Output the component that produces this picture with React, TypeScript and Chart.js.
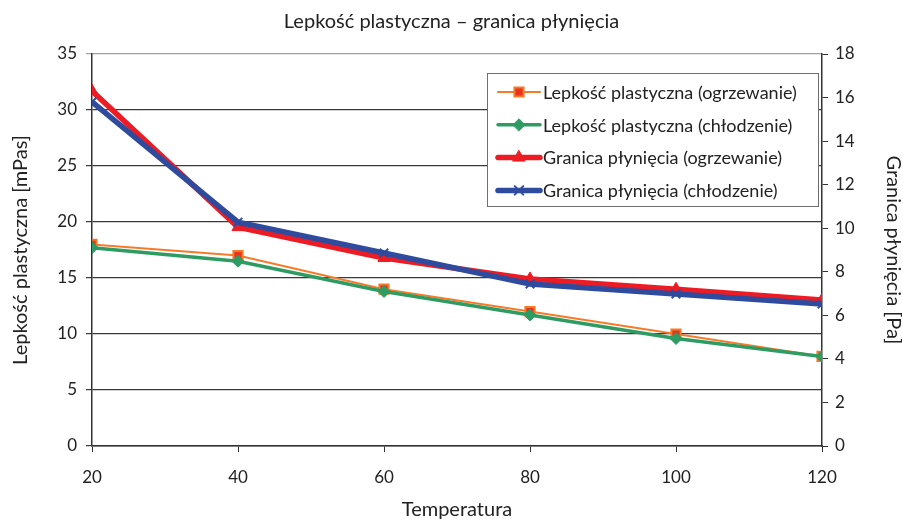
import React, { useEffect, useRef } from "react";
import { Chart, registerables } from "chart.js";
import { drawPoint } from "chart.js/helpers";

Chart.register(...registerables);

const temperatures = [20, 40, 60, 80, 100, 120];
const viscosityHeating = [18, 17, 14, 12, 10, 8];
const viscosityCooling = [17.7, 16.5, 13.8, 11.7, 9.6, 8.0];
const yieldHeating = [16.3, 10.05, 8.63, 7.67, 7.2, 6.7];
const yieldCooling = [15.8, 10.28, 8.86, 7.44, 6.98, 6.52];

const seriesLabels = [
  "Lepkość plastyczna (ogrzewanie)",
  "Lepkość plastyczna (chłodzenie)",
  "Granica płynięcia (ogrzewanie)",
  "Granica płynięcia (chłodzenie)",
];

const FONT = "Lato, 'Open Sans', sans-serif";

const boxLegend = {
  id: "boxLegend",
  afterDraw(chart: any) {
    const { ctx, chartArea } = chart;
    const x0 = chartArea.right - 335;
    const y0 = chartArea.top + 19;
    const w = 331;
    const h = 133;
    ctx.save();
    ctx.fillStyle = "#ffffff";
    ctx.fillRect(x0, y0, w, h);
    ctx.strokeStyle = "#6e6e6e";
    ctx.lineWidth = 1;
    ctx.strokeRect(x0 + 0.5, y0 + 0.5, w, h);
    chart.data.datasets.forEach((ds: any, i: number) => {
      const y = y0 + 19 + i * 32.8;
      const lx1 = x0 + 11;
      const lx2 = x0 + 53;
      ctx.strokeStyle = ds.borderColor;
      ctx.lineWidth = ds.borderWidth;
      ctx.lineCap = "round";
      ctx.beginPath();
      ctx.moveTo(lx1, y);
      ctx.lineTo(lx2, y);
      ctx.stroke();
      ctx.fillStyle = ds.pointBackgroundColor;
      ctx.strokeStyle = ds.pointBorderColor;
      ctx.lineWidth = ds.pointBorderWidth;
      drawPoint(ctx, { pointStyle: ds.pointStyle, radius: ds.pointRadius, rotation: 0, borderWidth: ds.pointBorderWidth }, (lx1 + lx2) / 2, y);
      ctx.fillStyle = "#222222";
      ctx.font = `18px ${FONT}`;
      ctx.textBaseline = "middle";
      ctx.textAlign = "left";
      ctx.fillText(ds.label, lx2 + 3, y + 1);
    });
    ctx.restore();
  },
};

export default function App() {
  const ref = useRef<HTMLCanvasElement>(null);
  useEffect(() => {
    document.body.style.margin = "0";
    const toPts = (arr: number[]) => temperatures.map((t, i) => ({ x: t, y: arr[i] }));
    const chart = new Chart(ref.current!, {
      type: "line",
      data: {
        datasets: [
          {
            label: seriesLabels[0],
            data: toPts(viscosityHeating),
            yAxisID: "y",
            borderColor: "#F47B2A",
            borderWidth: 2,
            pointStyle: "rect",
            pointRadius: 6.5,
            pointBackgroundColor: "#E8321E",
            pointBorderColor: "#F47B2A",
            pointBorderWidth: 2,
            order: 3,
          },
          {
            label: seriesLabels[1],
            data: toPts(viscosityCooling),
            yAxisID: "y",
            borderColor: "#2E9C62",
            borderWidth: 3.5,
            pointStyle: "rectRot",
            pointRadius: 6,
            pointBackgroundColor: "#2E9C62",
            pointBorderColor: "#2E9C62",
            pointBorderWidth: 1,
            order: 2,
          },
          {
            label: seriesLabels[2],
            data: toPts(yieldHeating),
            yAxisID: "y1",
            borderColor: "#ED1C24",
            borderWidth: 5.5,
            pointStyle: "triangle",
            pointRadius: 7,
            pointBackgroundColor: "#ED1C24",
            pointBorderColor: "#ED1C24",
            pointBorderWidth: 1,
            order: 1,
          },
          {
            label: seriesLabels[3],
            data: toPts(yieldCooling),
            yAxisID: "y1",
            borderColor: "#2F4B9E",
            borderWidth: 5.5,
            pointStyle: "crossRot",
            pointRadius: 6,
            pointBackgroundColor: "#2F4B9E",
            pointBorderColor: "#2F4B9E",
            pointBorderWidth: 2,
            order: 0,
          },
        ],
      },
      options: {
        animation: false,
        responsive: false,
        layout: { padding: 0 },
        plugins: {
          legend: { display: false },
          tooltip: { enabled: false },
          title: {
            display: true,
            text: "Lepkość plastyczna – granica płynięcia",
            color: "#222222",
            font: { family: FONT, size: 20, weight: "normal" },
            padding: { top: 10, bottom: 20 },
          },
        },
        scales: {
          x: {
            type: "linear",
            min: 20,
            max: 120,
            ticks: { stepSize: 20, color: "#222222", font: { family: FONT, size: 17 }, padding: 15 },
            grid: { drawOnChartArea: false, drawTicks: true, tickLength: 6, color: "#333333" },
            border: { color: "#333333", width: 1.5 },
            title: { display: true, text: "Temperatura", color: "#222222", font: { family: FONT, size: 20 }, padding: { top: 0, bottom: -2 } },
            afterFit: (s: any) => { s.height = 74; },
          },
          y: {
            position: "left",
            min: 0,
            max: 35,
            ticks: { stepSize: 5, color: "#222222", font: { family: FONT, size: 17 }, padding: 9 },
            grid: {
              color: (c: any) => (c.tick && c.tick.value === 35 ? "#a0a0a0" : "#3a3a3a"),
              lineWidth: 1.2,
              tickLength: 6,
            },
            border: { color: "#333333", width: 1.5 },
            title: { display: true, text: "Lepkość plastyczna [mPas]", color: "#222222", font: { family: FONT, size: 20 }, padding: { top: 9, bottom: 0 } },
            afterFit: (s: any) => { s.width = 92; },
          },
          y1: {
            position: "right",
            min: 0,
            max: 18,
            ticks: { stepSize: 2, color: "#222222", font: { family: FONT, size: 17 }, padding: 7 },
            grid: { drawOnChartArea: false, drawTicks: true, tickLength: 6, color: "#333333" },
            border: { color: "#333333", width: 1.5 },
            title: { display: true, text: "Granica płynięcia [Pa]", color: "#222222", font: { family: FONT, size: 20 }, padding: { top: -2, bottom: 0 } },
            afterFit: (s: any) => { s.width = 81; },
          },
        },
      },
      plugins: [boxLegend],
    });
    return () => chart.destroy();
  }, []);
  return <canvas ref={ref} width={903} height={520} style={{ display: "block" }} />;
}
